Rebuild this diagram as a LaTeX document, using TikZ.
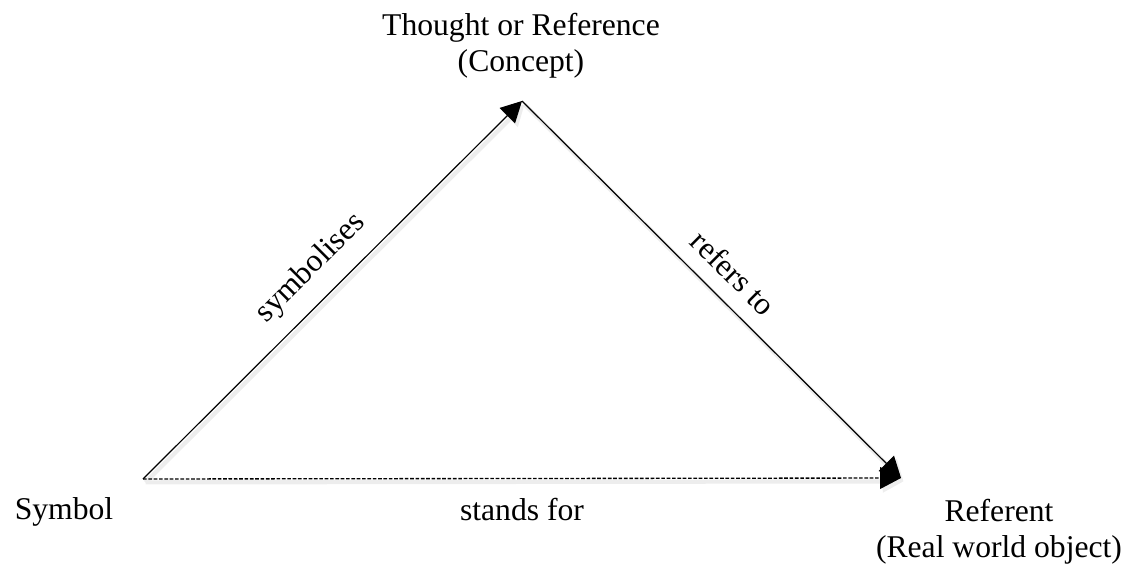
\documentclass[tikz,border=0pt]{standalone}
\usepackage{fontspec}
\setmainfont{Liberation Serif}
\usepackage{tikz}
\usetikzlibrary{arrows.meta,positioning}
\definecolor{Ink}{HTML}{000000}
\definecolor{Shade}{HTML}{EDEDED}
\tikzset{
  lbl/.style={font=\fontsize{22.5}{25.6}\selectfont,inner sep=0pt,align=center},
  edgelbl/.style={lbl,sloped,above=.39cm},
  link/.style={-{Triangle[length=5.2mm,width=5.4mm]},draw=Ink,line width=.85pt,
    preaction={draw=Shade,solid,line width=3pt,transform canvas={shift={(1.8pt,-2.4pt)}}}},
  dashlink/.style={link,line width=.95pt,dash pattern=on 2.6pt off 1.2pt}
}

\begin{document}
\begin{tikzpicture}[x=.025cm,y=-.025cm]
        \useasboundingbox (0,0) rectangle (1124,565);
        \coordinate (symv) at (143,479);
        \coordinate (topv) at (522,101);
        \coordinate (refv) at (901,478);
        \node[lbl] (thought) at (521,46) {Thought or Reference\\(Concept)};
        \node[lbl,anchor=base] (symbol) at (64,519) {Symbol};
        \node[lbl] (referent) at (999,532) {Referent\\(Real world object)};
        \draw[link] (symv) -- node[edgelbl] (symb) {symbolises} (topv);
        \draw[link] (topv) -- node[edgelbl,xshift=.1cm] (refto) {refers to} (refv);
        \draw[dashlink] (symv) -- node[lbl,below=.48cm] (stands) {stands for} (refv);
      \end{tikzpicture}
\end{document}
